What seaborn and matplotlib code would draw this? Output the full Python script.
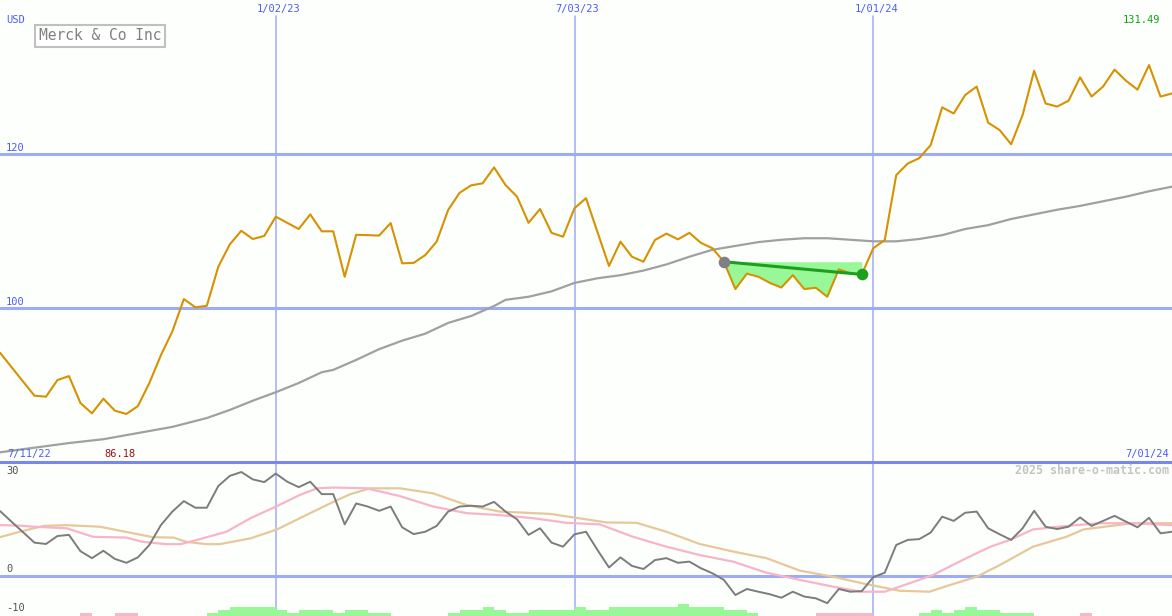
import numpy as np
import seaborn as sns
import matplotlib.pyplot as plt

# --- weekly data, 18 Jul 2022 .. 1 Jul 2024 (103 weeks) ---
price = [94.13, 92.27, 90.4, 88.55, 88.42, 90.58, 91.1, 87.6, 86.26, 88.16,
         86.6, 86.18, 87.2, 90.2, 93.8, 96.9, 101.1, 100.03, 100.23, 105.3,
         108.2, 109.97, 108.9, 109.3, 111.8, 111.0, 110.2, 112.1, 109.9, 109.9,
         104.0, 109.45, 109.4, 109.35, 110.97, 105.74, 105.8, 106.8, 108.55, 112.66,
         114.9, 115.87, 116.13, 118.2, 115.9, 114.4, 111.0, 112.8, 109.7, 109.2,
         112.9, 114.2, 109.8, 105.4, 108.55, 106.6, 105.95, 108.77, 109.6, 108.86,
         109.7, 108.4, 107.7, 105.95, 102.4, 104.4, 104.0, 103.2, 102.6, 104.2,
         102.4, 102.57, 101.4, 104.96, 104.44, 104.3, 107.7, 108.77, 117.2, 118.7,
         119.4, 121.1, 126.0, 125.2, 127.6, 128.7, 124.0, 123.05, 121.2, 125.0,
         130.75, 126.5, 126.1, 126.86, 129.9, 127.4, 128.7, 130.9, 129.45, 128.3,
         131.49, 127.4, 127.8]

# long moving average (grey line in the price panel)
ma_weeks = [0, 3, 6, 9, 12, 15, 18, 20, 22, 24, 26, 28, 29, 31, 33, 35, 37, 39, 41, 43,
            44, 46, 48, 50, 52, 54, 56, 58, 60, 62, 64, 66, 68, 70, 72, 74, 76, 78, 80, 82,
            84, 86, 88, 90, 92, 94, 96, 98, 100, 102]
ma_vals = [81.2, 81.8, 82.4, 82.9, 83.7, 84.5, 85.65, 86.7, 87.9, 89.0,
           90.2, 91.6, 91.9, 93.2, 94.6, 95.7, 96.6, 98.0, 98.9, 100.2,
           101.0, 101.4, 102.1, 103.2, 103.8, 104.2, 104.8, 105.6, 106.6, 107.5,
           108.0, 108.5, 108.8, 109.0, 109.0, 108.8, 108.6, 108.6, 108.9, 109.4,
           110.2, 110.7, 111.5, 112.1, 112.7, 113.2, 113.8, 114.4, 115.1, 115.7]

# lower panel: oscillator (dark grey) and its two averages
mom = [16.75, 14.0, 11.3, 8.6, 8.25, 10.3, 10.6, 6.4, 4.6, 6.5,
       4.4, 3.4, 4.8, 8.0, 13.1, 16.6, 19.3, 17.6, 17.6, 23.2,
       25.8, 26.8, 24.9, 24.2, 26.4, 24.3, 22.9, 24.3, 21.1, 21.1,
       13.3, 18.7, 17.9, 16.8, 17.9, 12.55, 10.8, 11.4, 12.9, 16.6,
       17.9, 18.1, 17.9, 19.1, 16.6, 14.6, 10.6, 12.3, 8.6, 7.55,
       10.75, 11.4, 6.7, 2.2, 4.8, 2.6, 1.8, 4.1, 4.6, 3.4,
       3.7, 2.0, 0.7, -1.0, -4.9, -3.35, -4.05, -4.7, -5.6, -4.05,
       -5.3, -5.75, -7.0, -3.35, -4.05, -3.9, -0.3, 0.85, 8.0, 9.3,
       9.5, 11.2, 15.3, 14.2, 16.3, 16.6, 12.3, 10.75, 9.3, 12.3,
       16.8, 12.7, 12.1, 12.7, 15.1, 12.9, 14.2, 15.5, 14.0, 12.55,
       15.0, 11.0, 11.4]

pink_weeks = [0, 1.7, 2.9, 5.8, 8.1, 11.0, 12.4, 14.5, 15.7, 17.4,
              19.7, 21.8, 24.1, 26.1, 27.6, 29.0, 31.9, 34.8, 37.7, 40.6,
              43.5, 46.4, 49.3, 52.2, 55.1, 58.0, 60.9, 63.8, 66.7, 69.6,
              72.5, 74.9, 77.0, 78.3, 81.2, 84.1, 86.2, 87.9, 89.9, 92.8,
              95.7, 98.6, 102]
pink_vals = [13.1, 13.0, 12.7, 12.3, 10.1, 9.9, 8.8, 8.2, 8.2, 9.5,
             11.4, 14.9, 18.0, 20.9, 22.6, 22.8, 22.6, 20.6, 17.9, 16.2,
             15.7, 14.9, 13.7, 13.3, 10.1, 7.55, 5.4, 3.7, 0.85, -1.0,
             -2.75, -4.05, -4.05, -2.75, 0.25, 4.6, 7.55, 9.3, 12.0, 12.9,
             13.6, 13.6, 13.1]

tan_weeks = [0, 1.7, 3.8, 5.8, 8.7, 11.6, 13.3, 15.1, 16.2, 18.0,
             19.1, 21.8, 24.1, 26.1, 29.0, 30.5, 32.2, 34.8, 37.7, 40.6,
             43.5, 47.9, 49.9, 52.8, 55.4, 58.0, 60.9, 63.8, 66.7, 69.6,
             72.5, 75.4, 78.3, 80.9, 82.7, 85.0, 87.0, 89.9, 92.8, 94.3,
             97.2, 98.6, 102]
tan_vals = [10.0, 11.4, 12.9, 13.1, 12.7, 11.0, 10.0, 9.9, 8.8, 8.2,
            8.2, 9.7, 12.0, 14.9, 19.1, 21.1, 22.6, 22.6, 21.3, 18.3,
            16.6, 16.0, 15.1, 13.8, 13.7, 11.4, 8.25, 6.3, 4.6, 1.4,
            -0.2, -2.1, -3.8, -4.05, -2.3, -0.2, 2.8, 7.55, 10.1, 12.0,
            13.1, 13.6, 13.6]

# signal blocks along the bottom: + green, - pink (height in steps)
signal = [0, 0, 0, 0, 0, 0, 0, -1, 0, 0,
          -1, -1, 0, 0, 0, 0, 0, 0, 1, 2,
          3, 3, 3, 3, 2, 1, 2, 2, 2, 1,
          2, 2, 1, 1, 0, 0, 0, 0, 0, 1,
          2, 2, 3, 2, 1, 1, 2, 2, 2, 2,
          3, 2, 2, 3, 3, 3, 3, 3, 3, 4,
          3, 3, 3, 2, 2, 1, 0, 0, 0, 0,
          0, -1, -1, -1, -1, -1, 0, 0, 0, 0,
          1, 2, 1, 2, 3, 2, 2, 1, 1, 1,
          0, 0, 0, 0, -1, 0, 0, 0, 0, 0,
          0, 0, 0]

trend_start, trend_end = 63, 75

date_weeks = [24, 50, 76]
date_labels = ['1/02/23', '7/03/23', '1/01/24']
price_grid = [100, 120]

# --- styling ---
W, H = 1172, 616
BG = '#fdfffd'
GRID = '#9eacf4'
LABEL = '#4c5cf4'

sns.set_style('white')
plt.rcParams['font.family'] = ['DejaVu Sans Mono', 'DejaVu Sans']

fig = plt.figure(figsize=(W / 100, H / 100), dpi=100, facecolor=BG)
ax = fig.add_axes([0, 0.25, 1, 0.75])
ax2 = fig.add_axes([0, 0, 1, 0.25])
for a in (ax, ax2):
    a.set_axis_off()
    a.set_xlim(0, len(price) - 1)
ax.set_ylim(79.94, 139.94)
ylo, yhi = -10.31, 29.38
ax2.set_ylim(ylo, yhi)

weeks = np.arange(len(price))

# grid
for w in date_weeks:
    ax.axvline(w, ymax=1 - 16 / 462, color=GRID, lw=1.1, zorder=1)
    ax2.axvline(w, color=GRID, lw=1.1, zorder=1)
for p in price_grid:
    ax.axhline(p, color=GRID, lw=2.2, zorder=1)
ax2.axhline(0, color=GRID, lw=2.2, zorder=1)
fig.add_artist(plt.Line2D([0, 1], [0.25, 0.25], transform=fig.transFigure,
                          color='#7888e8', lw=2.2))

# price panel
sns.lineplot(x=ma_weeks, y=ma_vals, ax=ax, color='#a0a0a0', lw=1.6, legend=False, zorder=2)
seg = weeks[trend_start:trend_end + 1]
ax.fill_between(seg, np.array(price)[seg], price[trend_start], color='#98f898', lw=0, zorder=3)
sns.lineplot(x=weeks, y=price, ax=ax, color='#d69200', lw=1.5, legend=False, zorder=4)
ax.plot([trend_start, trend_end], [price[trend_start], price[trend_end]],
        color='#1e9e1e', lw=2.2, zorder=5)
ax.scatter([trend_start], [price[trend_start]], s=70, color='#808080', zorder=6, lw=0)
ax.scatter([trend_end], [price[trend_end]], s=70, color='#1e9e1e', zorder=6, lw=0)

# lower panel
heights = [abs(s) * 0.8 for s in signal]
colors = ['#98f898' if s > 0 else '#f8b8cc' for s in signal]
ax2.bar(weeks, heights, width=1, align='edge', bottom=ylo, color=colors, lw=0, zorder=2)
sns.lineplot(x=tan_weeks, y=tan_vals, ax=ax2, color='#e6c89a', lw=1.6, legend=False, zorder=3)
sns.lineplot(x=pink_weeks, y=pink_vals, ax=ax2, color='#f8b4c8', lw=1.6, legend=False, zorder=4)
sns.lineplot(x=weeks, y=mom, ax=ax2, color='#7c7c7c', lw=1.4, legend=False, zorder=5)


def px_text(x, y, s, **kw):
    fig.text(x / W, 1 - y / H, s, va='center', **kw)


small = 7.5
px_text(6, 20, 'USD', color=LABEL, fontsize=small)
px_text(6, 148, '120', color=LABEL, fontsize=small)
px_text(6, 302, '100', color=LABEL, fontsize=small)
for w, lab in zip(date_weeks, date_labels):
    px_text(w * W / (len(price) - 1) + 3, 9, lab, color=LABEL, fontsize=small, ha='center')
px_text(7, 454, '7/11/22', color=LABEL, fontsize=small)
px_text(120, 454, '86.18', color='#a01010', fontsize=small, ha='center')
px_text(1169, 454, '7/01/24', color=LABEL, fontsize=small, ha='right')
px_text(1160, 20, '131.49', color='#10a010', fontsize=small, ha='right')
px_text(1169, 471, '2025 share-o-matic.com', color='#c4c4c4', fontsize=8.4,
        ha='right', fontweight='bold')
px_text(6, 471, '30', color='#505050', fontsize=small)
px_text(6, 569, '0', color='#505050', fontsize=small)
px_text(6, 608, '-10', color='#505050', fontsize=small)
px_text(100, 36, 'Merck & Co Inc', color='#808080', fontsize=10.5, ha='center',
        bbox=dict(boxstyle='square,pad=0.25', fc='white', ec='#c0c0c0', lw=1.5))

fig.savefig('out.png', dpi=100, facecolor=BG)
